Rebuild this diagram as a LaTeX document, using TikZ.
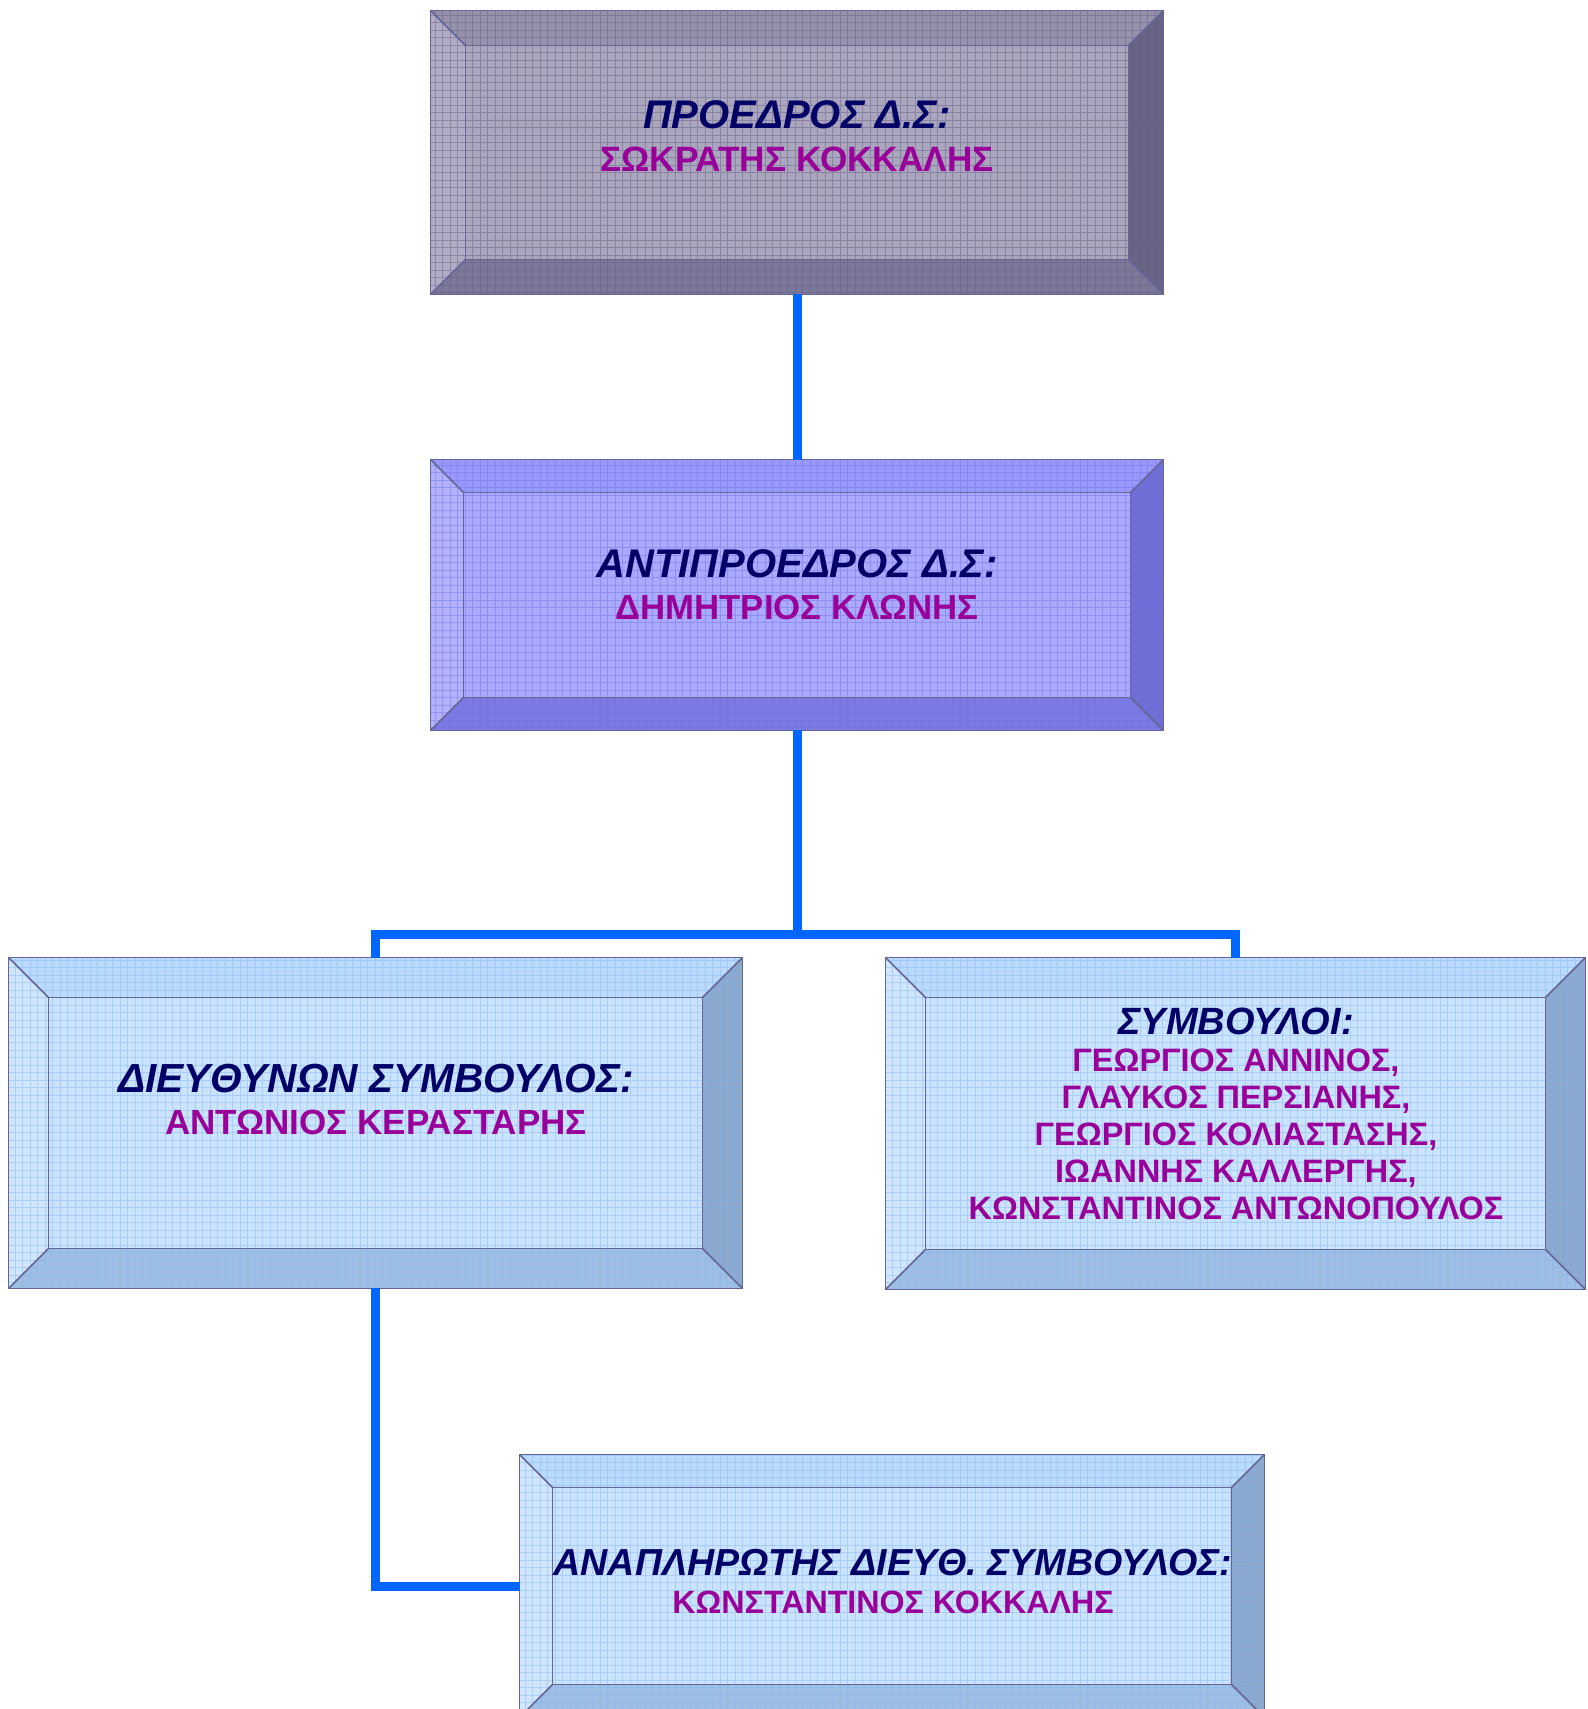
\documentclass[tikz,border=0pt]{standalone}
\usepackage{fontspec}
\setmainfont{Liberation Sans}
\usetikzlibrary{calc}

\definecolor{navytext}{RGB}{0,0,102}
\definecolor{purpletext}{RGB}{153,0,153}
\definecolor{linkblue}{RGB}{0,102,255}
\definecolor{edgecol}{RGB}{102,102,150}
% grey box
\definecolor{grayface}{RGB}{170,166,190}
\definecolor{graytop}{RGB}{150,146,172}
\definecolor{grayleft}{RGB}{176,172,196}
\definecolor{grayright}{RGB}{104,100,134}
\definecolor{graybot}{RGB}{124,120,154}
\definecolor{graygrid}{RGB}{96,92,128}
% violet box
\definecolor{violetface}{RGB}{170,170,255}
\definecolor{violettop}{RGB}{152,152,255}
\definecolor{violetleft}{RGB}{178,178,255}
\definecolor{violetright}{RGB}{110,110,212}
\definecolor{violetbot}{RGB}{122,122,226}
\definecolor{violetgrid}{RGB}{110,110,230}
% light blue boxes
\definecolor{skyface}{RGB}{202,227,255}
\definecolor{skytop}{RGB}{186,218,255}
\definecolor{skyleft}{RGB}{208,230,255}
\definecolor{skyright}{RGB}{140,168,204}
\definecolor{skybot}{RGB}{158,190,228}
\definecolor{skygrid}{RGB}{130,180,240}

\newcommand{\titlef}[1]{\color{navytext}\bfseries\itshape\fontsize{#1}{#1}\selectfont}
\newcommand{\namef}[1]{\color{purpletext}\bfseries\fontsize{#1}{#1}\selectfont}

\newcommand{\bevelbox}[3]{%
  \coordinate (#1-nw) at ($(#1.north west)+(#2,#2)$);
  \coordinate (#1-ne) at ($(#1.north east)+(-#2,#2)$);
  \coordinate (#1-se) at ($(#1.south east)+(-#2,-#2)$);
  \coordinate (#1-sw) at ($(#1.south west)+(#2,-#2)$);
  \fill[#3face] (#1-nw) rectangle (#1-se);
  \fill[#3top] (#1.north west) -- (#1.north east) -- (#1-ne) -- (#1-nw) -- cycle;
  \fill[#3left] (#1.north west) -- (#1-nw) -- (#1-sw) -- (#1.south west) -- cycle;
  \fill[#3right] (#1.north east) -- (#1.south east) -- (#1-se) -- (#1-ne) -- cycle;
  \fill[#3bot] (#1.south west) -- (#1-sw) -- (#1-se) -- (#1.south east) -- cycle;
  \begin{scope}
    \clip (#1.north west) rectangle (#1.south east);
    \draw[gridline,#3grid] (#1.north west) grid (#1.south east);
  \end{scope}
  \draw[edge] (#1.north west) rectangle (#1.south east);
  \draw[edge] (#1-nw) rectangle (#1-se);
  \draw[edge] (#1.north west) -- (#1-nw) (#1.north east) -- (#1-ne)
              (#1.south east) -- (#1-se) (#1.south west) -- (#1-sw);
}

\begin{document}
\begin{tikzpicture}[x=0.5pt,y=-0.5pt,
    box/.style={rectangle,inner sep=0pt},
    gridline/.style={step=3.75pt,line width=0.3pt,opacity=0.45},
    edge/.style={draw=edgecol,line width=0.75pt,line join=miter},
    link/.style={draw=linkblue,line width=4.5pt},
    label/.style={align=center,inner sep=0pt}]
  \useasboundingbox (0,0) rectangle (1587,1709);
  \clip (0,0) rectangle (1587,1709);

  \node[box,minimum width=366pt,minimum height=141.5pt] (pres) at (797,152.5) {};
  \node[box,minimum width=366pt,minimum height=135pt] (vice) at (797,595) {};
  \node[box,minimum width=366.5pt,minimum height=165pt] (ceo) at (375.5,1123) {};
  \node[box,minimum width=349.5pt,minimum height=165.5pt] (board) at (1235.5,1123.5) {};
  \node[box,minimum width=372pt,minimum height=131pt] (deputy) at (892,1586) {};

  \bevelbox{pres}{35}{gray}
  \bevelbox{vice}{33}{violet}
  \bevelbox{ceo}{40}{sky}
  \bevelbox{board}{40}{sky}
  \bevelbox{deputy}{33}{sky}

  \coordinate (bus) at (797,934);
  \path[link] (pres.south) edge (vice.north);
  \draw[link] (vice.south) -- (bus);
  \draw[link,line join=miter] (ceo.north) |- (bus) -| (board.north);
  \draw[link,line join=miter] (ceo.south) |- (deputy.west);

  \node[label,font=\fontsize{17}{21.7}\selectfont] (presT) at (797,136)
    {{\titlef{20}ΠΡΟΕΔΡΟΣ Δ.Σ:}\\{\namef{17.6}ΣΩΚΡΑΤΗΣ ΚΟΚΚΑΛΗΣ}};
  \node[label,font=\fontsize{17}{21.2}\selectfont] (viceT) at (797,584.5)
    {{\titlef{20}ΑΝΤΙΠΡΟΕΔΡΟΣ Δ.Σ:}\\{\namef{17.4}ΔΗΜΗΤΡΙΟΣ ΚΛΩΝΗΣ}};
  \node[label,font=\fontsize{17}{21}\selectfont] (ceoT) at (376,1099.5)
    {{\titlef{20.3}ΔΙΕΥΘΥΝΩΝ ΣΥΜΒΟΥΛΟΣ:}\\{\namef{17.5}ΑΝΤΩΝΙΟΣ ΚΕΡΑΣΤΑΡΗΣ}};
  \node[label,font=\fontsize{16}{18.5}\selectfont] (boardT) at (1236,1114)
    {{\titlef{19}ΣΥΜΒΟΥΛΟΙ:}\\{\namef{16.2}ΓΕΩΡΓΙΟΣ ΑΝΝΙΝΟΣ,}\\{\namef{16.2}ΓΛΑΥΚΟΣ ΠΕΡΣΙΑΝΗΣ,}\\{\namef{16.2}ΓΕΩΡΓΙΟΣ ΚΟΛΙΑΣΤΑΣΗΣ,}\\{\namef{16.2}ΙΩΑΝΝΗΣ ΚΑΛΛΕΡΓΗΣ,}\\{\namef{16.2}ΚΩΝΣΤΑΝΤΙΝΟΣ ΑΝΤΩΝΟΠΟΥΛΟΣ}};
  \node[label,font=\fontsize{16}{19}\selectfont] (deputyT) at (893,1581.5)
    {{\titlef{18.8}ΑΝΑΠΛΗΡΩΤΗΣ ΔΙΕΥΘ. ΣΥΜΒΟΥΛΟΣ:}\\{\namef{16.1}ΚΩΝΣΤΑΝΤΙΝΟΣ ΚΟΚΚΑΛΗΣ}};
\end{tikzpicture}
\end{document}
